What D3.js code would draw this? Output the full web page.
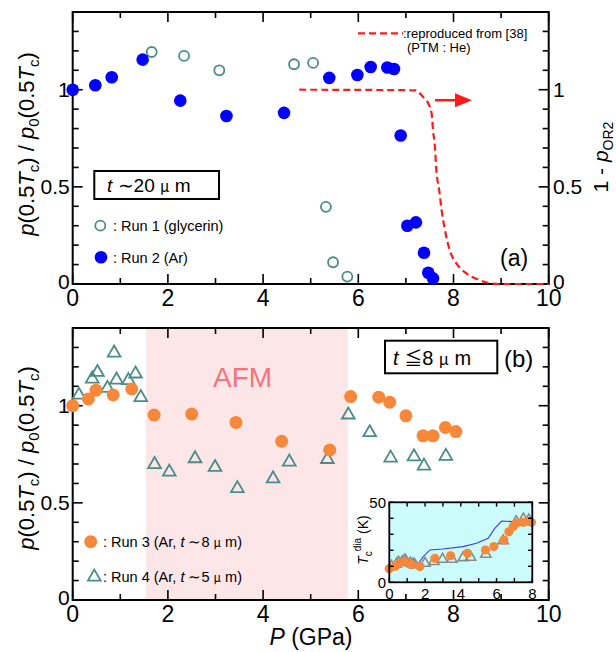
<!DOCTYPE html>
<html><head><meta charset="utf-8">
<script src="https://cdn.jsdelivr.net/npm/d3@7/dist/d3.min.js"></script>
<style>
body{margin:0;background:#fff;}
svg text{font-family:Arial,"Liberation Sans",sans-serif;}
</style></head>
<body>
<svg id="c" width="616" height="652"></svg>
<script>
// ---------- data ----------
const xTicksMajor = [0, 2, 4, 6, 8, 10];
const yTickLabels = [0, 0.5, 1];
// panel (a)
const run1P = [1.66, 2.34, 3.08, 4.65, 5.05, 5.32, 5.47, 5.77];
const run1V = [1.194, 1.174, 1.10, 1.131, 1.138, 0.397, 0.112, 0.038];
const run2P = [0, 0.475, 0.82, 1.47, 2.26, 3.23, 4.44, 5.39, 5.98, 6.26, 6.61, 6.75, 6.89, 7.03, 7.21, 7.38, 7.47, 7.57];
const run2V = [1.0, 1.023, 1.064, 1.155, 0.944, 0.865, 0.881, 1.061, 1.076, 1.117, 1.114, 1.107, 0.764, 0.300, 0.317, 0.161, 0.058, 0.029];
const refP = [4.76, 7.2, 7.36, 7.47, 7.54, 7.57, 7.61, 7.64, 7.70, 7.75, 7.82, 7.92, 8.06, 8.27, 8.55, 8.76, 9.0, 10];
const refV = [1.0, 0.997, 0.963, 0.929, 0.878, 0.792, 0.706, 0.586, 0.483, 0.38, 0.278, 0.175, 0.106, 0.055, 0.02, 0.004, 0, 0];
// panel (b)
const afmRange = [1.54, 5.78];
const run3P = [0, 0.33, 0.49, 0.85, 1.24, 1.71, 2.50, 3.43, 4.39, 5.40, 5.84, 6.43, 6.66, 7.0, 7.36, 7.57, 7.83, 8.05];
const run3V = [1.0, 1.035, 1.08, 1.055, 1.086, 0.952, 0.957, 0.914, 0.817, 0.772, 1.047, 1.044, 1.018, 0.948, 0.845, 0.845, 0.888, 0.867];
const run4P = [0.13, 0.41, 0.52, 0.73, 0.87, 0.92, 1.17, 1.32, 1.43, 1.72, 2.03, 2.57, 2.99, 3.46, 4.21, 4.55, 5.35, 5.79, 6.24, 6.68, 7.17, 7.38, 7.84];
const run4V = [1.055, 1.138, 1.172, 1.09, 1.272, 1.133, 1.13, 1.164, 1.043, 0.698, 0.659, 0.728, 0.683, 0.574, 0.624, 0.711, 0.724, 0.953, 0.862, 0.731, 0.738, 0.69, 0.74];
// inset: Tc^dia vs P
const insetXTicks = [0, 2, 4, 6, 8];
const insetYTicks = [0, 50];
const lineP = [0, 0.6, 1.06, 1.44, 1.56, 1.9, 2.27, 3.0, 4.13, 4.88, 5.53, 5.9, 6.28, 6.93, 8.0];
const lineT = [9.1, 11.9, 13.7, 11.9, 10.8, 16, 20.2, 20.8, 22.3, 24.4, 27.5, 33.7, 38.3, 37.9, 35.4];
const inOrP = [0, 0.33, 0.5, 0.85, 1.24, 1.71, 2.55, 3.43, 4.38, 5.38, 5.85, 6.41, 6.69, 6.93, 7.12, 7.49, 7.78, 7.95];
const inOrT = [8.5, 10, 11.5, 13, 11, 9.8, 15, 16.6, 18.1, 20.2, 22.3, 26.4, 31.6, 34.8, 37, 37.5, 38, 37.5];
const inTrP = [0.13, 0.41, 0.52, 0.73, 0.87, 0.92, 1.17, 1.32, 1.43, 2.0, 2.5, 2.98, 3.5, 4.13, 4.55, 5.4, 6.37, 7.1, 7.5, 7.8];
const inTrT = [10, 11.5, 12.5, 13, 14, 13.5, 12, 11.5, 11, 11.9, 13, 14.4, 14.4, 15.4, 15.6, 17.5, 26, 38, 39.5, 39];

// ---------- styles ----------
const teal = "#4a8c88", blue = "#0000ff", orange = "#f7883a", red = "#ff1a1a";
const svg = d3.select("#c");

const X0 = 72.7, X1 = 548.7;
const x = d3.scaleLinear().domain([0, 10]).range([X0, X1]);
const yA = d3.scaleLinear().domain([0, 1.4]).range([284, 12]);
const yB = d3.scaleLinear().domain([0, 1.4]).range([600, 328]);

function frame(y) {
  const g = svg.append("g");
  const [b, t] = y.range();
  const minorX = d3.range(0, 11, 1), minorY = d3.range(0, 1.41, 0.1);
  minorX.forEach(v => {
    const L = (v % 2 === 0) ? 10 : 6;
    g.append("line").attr("x1", x(v)).attr("x2", x(v)).attr("y1", b).attr("y2", b - L).attr("stroke", "#000").attr("stroke-width", 1.6);
    g.append("line").attr("x1", x(v)).attr("x2", x(v)).attr("y1", t).attr("y2", t + L).attr("stroke", "#000").attr("stroke-width", 1.6);
  });
  minorY.forEach(v => {
    const r = Math.round(v * 10);
    const L = (r % 5 === 0) ? 10 : 6;
    g.append("line").attr("x1", X0).attr("x2", X0 + L).attr("y1", y(v)).attr("y2", y(v)).attr("stroke", "#000").attr("stroke-width", 1.6);
    g.append("line").attr("x1", X1).attr("x2", X1 - L).attr("y1", y(v)).attr("y2", y(v)).attr("stroke", "#000").attr("stroke-width", 1.6);
  });
  g.append("rect").attr("x", X0).attr("y", t).attr("width", X1 - X0).attr("height", b - t)
    .attr("fill", "none").attr("stroke", "#000").attr("stroke-width", 2);
  xTicksMajor.forEach(v => {
    g.append("text").attr("x", x(v)).attr("y", b + 22).attr("text-anchor", "middle")
      .attr("font-size", 23).text(v);
  });
  yTickLabels.forEach(v => {
    g.append("text").attr("x", X0 - 3).attr("y", y(v) + (v === 0 ? 5 : 7.5)).attr("text-anchor", "end")
      .attr("font-size", 21).text(v);
  });
  return g;
}

function yLabel(cy) {
  const t = svg.append("text").attr("transform", `translate(34,${cy}) rotate(-90)`)
    .attr("text-anchor", "middle").attr("font-size", 22);
  t.append("tspan").attr("font-style", "italic").text("p");
  t.append("tspan").text("(0.5");
  t.append("tspan").attr("font-style", "italic").text("T");
  t.append("tspan").attr("font-size", 15).attr("dy", 5).text("c");
  t.append("tspan").attr("dy", -5).text(")  /  ");
  t.append("tspan").attr("font-style", "italic").text("p");
  t.append("tspan").attr("font-size", 15).attr("dy", 5).text("0");
  t.append("tspan").attr("dy", -5).text("(0.5");
  t.append("tspan").attr("font-style", "italic").text("T");
  t.append("tspan").attr("font-size", 15).attr("dy", 5).text("c");
  t.append("tspan").attr("dy", -5).text(")");
}

// ---------- panel (b) background ----------
svg.append("rect").attr("x", x(afmRange[0])).attr("y", yB(1.4)).attr("width", x(afmRange[1]) - x(afmRange[0]))
  .attr("height", yB(0) - yB(1.4)).attr("fill", "#fde6e8");
svg.append("text").attr("x", 213).attr("y", 387).attr("font-size", 28).attr("fill", "#f7747c").text("AFM");

// ---------- panel (a) ----------
frame(yA);
yLabel(144);
yTickLabels.forEach(v => {
  svg.append("text").attr("x", 553).attr("y", yA(v) + (v === 0 ? 5 : 7.5)).attr("font-size", 21).text(v);
});
{
  const t = svg.append("text").attr("transform", `translate(608,157) rotate(-90)`)
    .attr("text-anchor", "middle").attr("font-size", 21);
  t.append("tspan").text("1 - ");
  t.append("tspan").attr("font-style", "italic").text("p");
  t.append("tspan").attr("font-size", 14).attr("dy", 5).text("OR2");
}
const refLine = d3.line().x((d, i) => x(refP[i])).y((d, i) => yA(refV[i])).curve(d3.curveMonotoneX);
svg.append("path").attr("d", refLine(refP)).attr("fill", "none").attr("stroke", red)
  .attr("stroke-width", 2.2).attr("stroke-dasharray", "7,4");
svg.append("line").attr("x1", 435).attr("x2", 457).attr("y1", yA(0.946)).attr("y2", yA(0.946))
  .attr("stroke", red).attr("stroke-width", 2.5);
svg.append("path").attr("d", `M455,${yA(0.946) - 7}L472,${yA(0.946)}L455,${yA(0.946) + 7}Z`).attr("fill", red);
svg.append("g").selectAll("circle").data(run1P).join("circle")
  .attr("cx", d => x(d)).attr("cy", (d, i) => yA(run1V[i])).attr("r", 5)
  .attr("fill", "none").attr("stroke", teal).attr("stroke-width", 1.8);
svg.append("g").selectAll("circle").data(run2P).join("circle")
  .attr("cx", d => x(d)).attr("cy", (d, i) => yA(run2V[i])).attr("r", 6.3).attr("fill", blue);
svg.append("line").attr("x1", 358).attr("x2", 403).attr("y1", 33.3).attr("y2", 33.3)
  .attr("stroke", red).attr("stroke-width", 2.2).attr("stroke-dasharray", "7,4");
svg.append("text").attr("x", 403).attr("y", 38).attr("font-size", 13).text(":reproduced from [38]");
svg.append("text").attr("x", 407).attr("y", 52).attr("font-size", 13).text("(PTM : He)");
svg.append("rect").attr("x", 94.3).attr("y", 171).attr("width", 124.7).attr("height", 28)
  .attr("fill", "#fff").attr("stroke", "#000").attr("stroke-width", 2);
{
  const t = svg.append("text").attr("x", 107).attr("y", 191.5).attr("font-size", 19);
  t.append("tspan").attr("font-style", "italic").text("t");
  t.append("tspan").text(" ∼20 ");
  t.append("tspan").attr("font-size", 15).attr("font-family", "'Noto Sans CJK JP'").text("μ");
  t.append("tspan").text(" m");
}
svg.append("circle").attr("cx", 100.3).attr("cy", 225.7).attr("r", 5).attr("fill", "none").attr("stroke", teal).attr("stroke-width", 1.8);
svg.append("text").attr("x", 113).attr("y", 231).attr("font-size", 14.5).text(": Run 1 (glycerin)");
svg.append("circle").attr("cx", 101).attr("cy", 257.3).attr("r", 6.3).attr("fill", blue);
svg.append("text").attr("x", 113).attr("y", 262.5).attr("font-size", 14.5).text(": Run 2 (Ar)");
svg.append("text").attr("x", 500).attr("y", 266).attr("font-size", 23).text("(a)");

// ---------- panel (b) ----------
frame(yB);
yLabel(458);
const tri = d3.symbol().type(d3.symbolTriangle).size(70);
svg.append("g").selectAll("path").data(run4P).join("path")
  .attr("transform", (d, i) => `translate(${x(d)},${yB(run4V[i])})`).attr("d", tri)
  .attr("fill", "none").attr("stroke", teal).attr("stroke-width", 1.8);
svg.append("g").selectAll("circle").data(run3P).join("circle")
  .attr("cx", d => x(d)).attr("cy", (d, i) => yB(run3V[i])).attr("r", 6.5).attr("fill", orange);
svg.append("rect").attr("x", 385).attr("y", 340.7).attr("width", 112.3).attr("height", 32.6)
  .attr("fill", "#fff").attr("stroke", "#000").attr("stroke-width", 2);
{
  const t = svg.append("text").attr("x", 393).attr("y", 365).attr("font-size", 20);
  t.append("tspan").attr("font-style", "italic").text("t");
  t.append("tspan").text(" ");
  t.append("tspan").attr("font-family", "'Noto Sans CJK JP'").attr("font-size", 18).text("≦");
  t.append("tspan").text("8 ");
  t.append("tspan").attr("font-size", 16).attr("font-family", "'Noto Sans CJK JP'").text("μ");
  t.append("tspan").text(" m");
}
svg.append("text").attr("x", 504).attr("y", 367).attr("font-size", 24).text("(b)");
svg.append("circle").attr("cx", 90.7).attr("cy", 541.7).attr("r", 6.5).attr("fill", orange);
{
  const t = svg.append("text").attr("x", 103).attr("y", 547).attr("font-size", 14.5);
  t.append("tspan").text(": Run 3 (Ar, ");
  t.append("tspan").attr("font-style", "italic").text("t");
  t.append("tspan").text(" ∼8 ");
  t.append("tspan").attr("font-size", 12).attr("font-family", "'Noto Sans CJK JP'").text("μ");
  t.append("tspan").text(" m)");
}
svg.append("path").attr("transform", "translate(94.3,577)").attr("d", tri)
  .attr("fill", "none").attr("stroke", teal).attr("stroke-width", 1.8);
{
  const t = svg.append("text").attr("x", 103).attr("y", 582).attr("font-size", 14.5);
  t.append("tspan").text(": Run 4 (Ar, ");
  t.append("tspan").attr("font-style", "italic").text("t");
  t.append("tspan").text(" ∼5 ");
  t.append("tspan").attr("font-size", 12).attr("font-family", "'Noto Sans CJK JP'").text("μ");
  t.append("tspan").text(" m)");
}
{
  const t = svg.append("text").attr("x", 311).attr("y", 645).attr("text-anchor", "middle").attr("font-size", 23);
  t.append("tspan").attr("font-style", "italic").text("P");
  t.append("tspan").text(" (GPa)");
}

// ---------- inset ----------
const ix = d3.scaleLinear().domain([0, 8]).range([389.3, 532.3]);
const iy = d3.scaleLinear().domain([0, 50]).range([582.3, 502.3]);
const ig = svg.append("g");
ig.append("rect").attr("x", 389.3).attr("y", 502.3).attr("width", 143).attr("height", 80).attr("fill", "#ccfbfb");
ig.append("path").attr("d", d3.line().x((d, i) => ix(lineP[i])).y((d, i) => iy(lineT[i]))(lineP))
  .attr("fill", "none").attr("stroke", "#3a3aff").attr("stroke-width", 1.1);
const itri = d3.symbol().type(d3.symbolTriangle).size(45);
ig.append("g").selectAll("path").data(inTrP).join("path")
  .attr("transform", (d, i) => `translate(${ix(d)},${iy(inTrT[i])})`).attr("d", itri)
  .attr("fill", "none").attr("stroke", "#8a8a8a").attr("stroke-width", 1.6);
ig.append("g").selectAll("circle").data(inOrP).join("circle")
  .attr("cx", d => ix(d)).attr("cy", (d, i) => iy(inOrT[i])).attr("r", 4.6).attr("fill", orange);
d3.range(0, 9).forEach(v => {
  ig.append("line").attr("x1", ix(v)).attr("x2", ix(v)).attr("y1", 582.3).attr("y2", 578).attr("stroke", "#000").attr("stroke-width", 1.4);
  ig.append("line").attr("x1", ix(v)).attr("x2", ix(v)).attr("y1", 502.3).attr("y2", 506.6).attr("stroke", "#000").attr("stroke-width", 1.4);
});
d3.range(0, 51, 10).forEach(v => {
  ig.append("line").attr("x1", 389.3).attr("x2", 393.6).attr("y1", iy(v)).attr("y2", iy(v)).attr("stroke", "#000").attr("stroke-width", 1.4);
  ig.append("line").attr("x1", 532.3).attr("x2", 528).attr("y1", iy(v)).attr("y2", iy(v)).attr("stroke", "#000").attr("stroke-width", 1.4);
});
ig.append("rect").attr("x", 389.3).attr("y", 502.3).attr("width", 143).attr("height", 80)
  .attr("fill", "none").attr("stroke", "#000").attr("stroke-width", 1.8);
insetXTicks.forEach(v => {
  ig.append("text").attr("x", ix(v)).attr("y", 599).attr("text-anchor", "middle").attr("font-size", 15).text(v);
});
insetYTicks.forEach(v => {
  ig.append("text").attr("x", 386).attr("y", iy(v) + 5.5).attr("text-anchor", "end").attr("font-size", 15).text(v);
});
{
  const t = ig.append("text").attr("transform", "translate(368,540) rotate(-90)").attr("text-anchor", "middle").attr("font-size", 14);
  t.append("tspan").attr("font-style", "italic").text("T");
  t.append("tspan").attr("font-size", 10).attr("dy", 4).text("c");
  t.append("tspan").attr("font-size", 10).attr("dy", -11).text("dia");
  t.append("tspan").attr("dy", 7).text(" (K)");
}
</script>
</body></html>
